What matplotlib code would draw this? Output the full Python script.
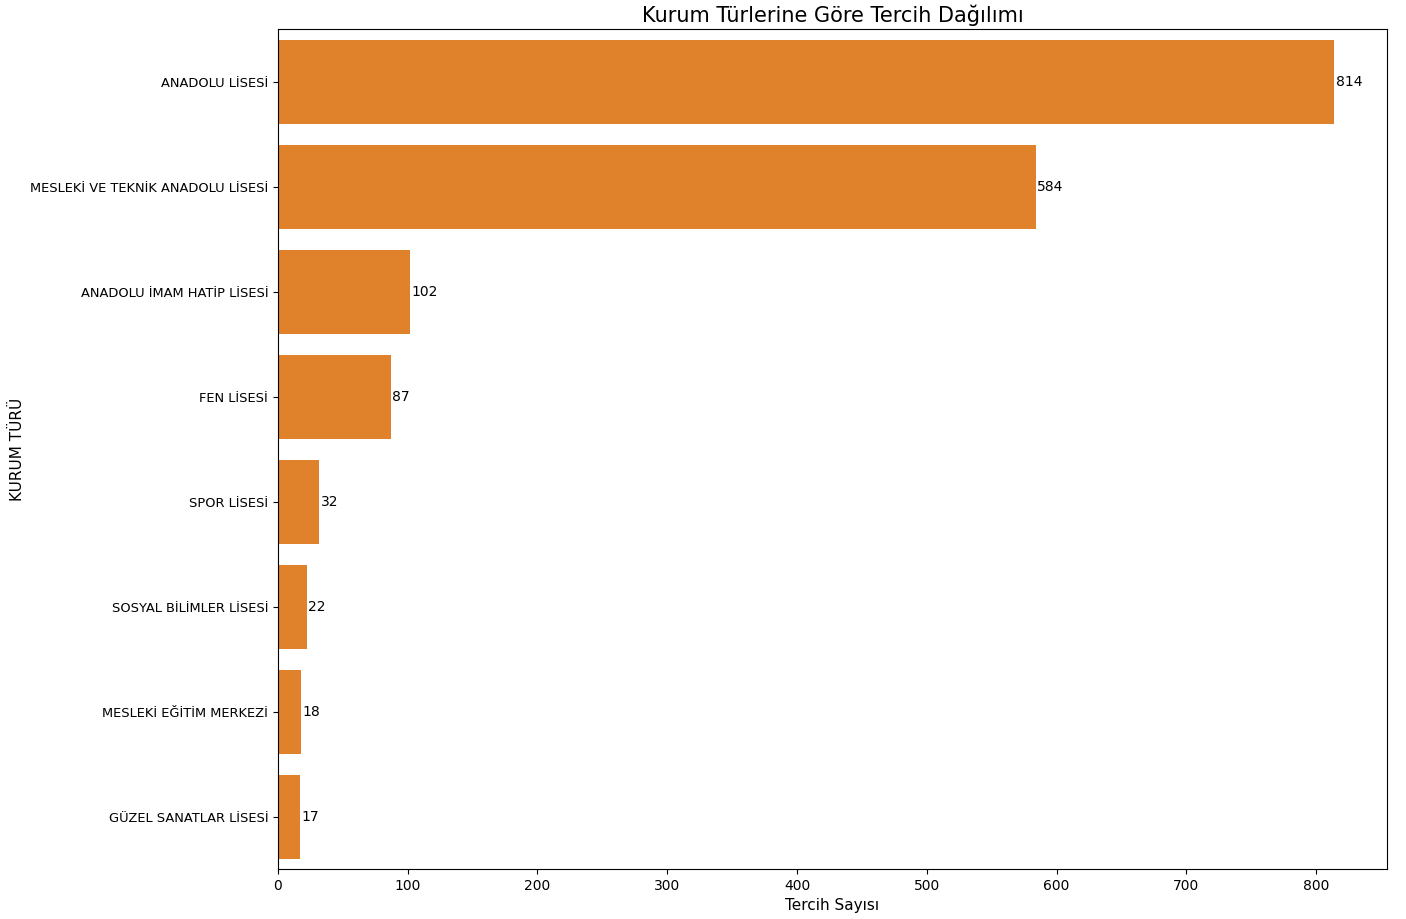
import matplotlib
matplotlib.use("Agg")
import matplotlib.pyplot as plt

# Kurum türleri ve tercih sayıları
kurum_turleri = [
    "ANADOLU LİSESİ",
    "MESLEKİ VE TEKNİK ANADOLU LİSESİ",
    "ANADOLU İMAM HATİP LİSESİ",
    "FEN LİSESİ",
    "SPOR LİSESİ",
    "SOSYAL BİLİMLER LİSESİ",
    "MESLEKİ EĞİTİM MERKEZİ",
    "GÜZEL SANATLAR LİSESİ",
]
tercih_sayilari = [814, 584, 102, 87, 32, 22, 18, 17]

fig = plt.figure(figsize=(14.06, 9.19), dpi=100)
ax = fig.add_axes([0.1977, 0.0544, 0.7888, 0.914])

y = list(range(len(kurum_turleri)))
bars = ax.barh(y, tercih_sayilari, height=0.8, color="#e0812c")
ax.set_yticks(y)
ax.set_yticklabels(kurum_turleri, fontsize=9.4)
ax.tick_params(axis="x", labelsize=10)
ax.set_ylim(len(kurum_turleri) - 0.5, -0.5)

# Çubukların üzerine değerleri yaz
ax.bar_label(bars, labels=[str(v) for v in tercih_sayilari], padding=1, fontsize=10)

ax.set_title("Kurum Türlerine Göre Tercih Dağılımı", fontsize=15, pad=5)
ax.set_xlabel("Tercih Sayısı", fontsize=11)
ax.set_ylabel("KURUM TÜRÜ", fontsize=11)
ax.yaxis.set_label_coords(-0.228, 0.5)

fig.savefig("out.png", dpi=100)
